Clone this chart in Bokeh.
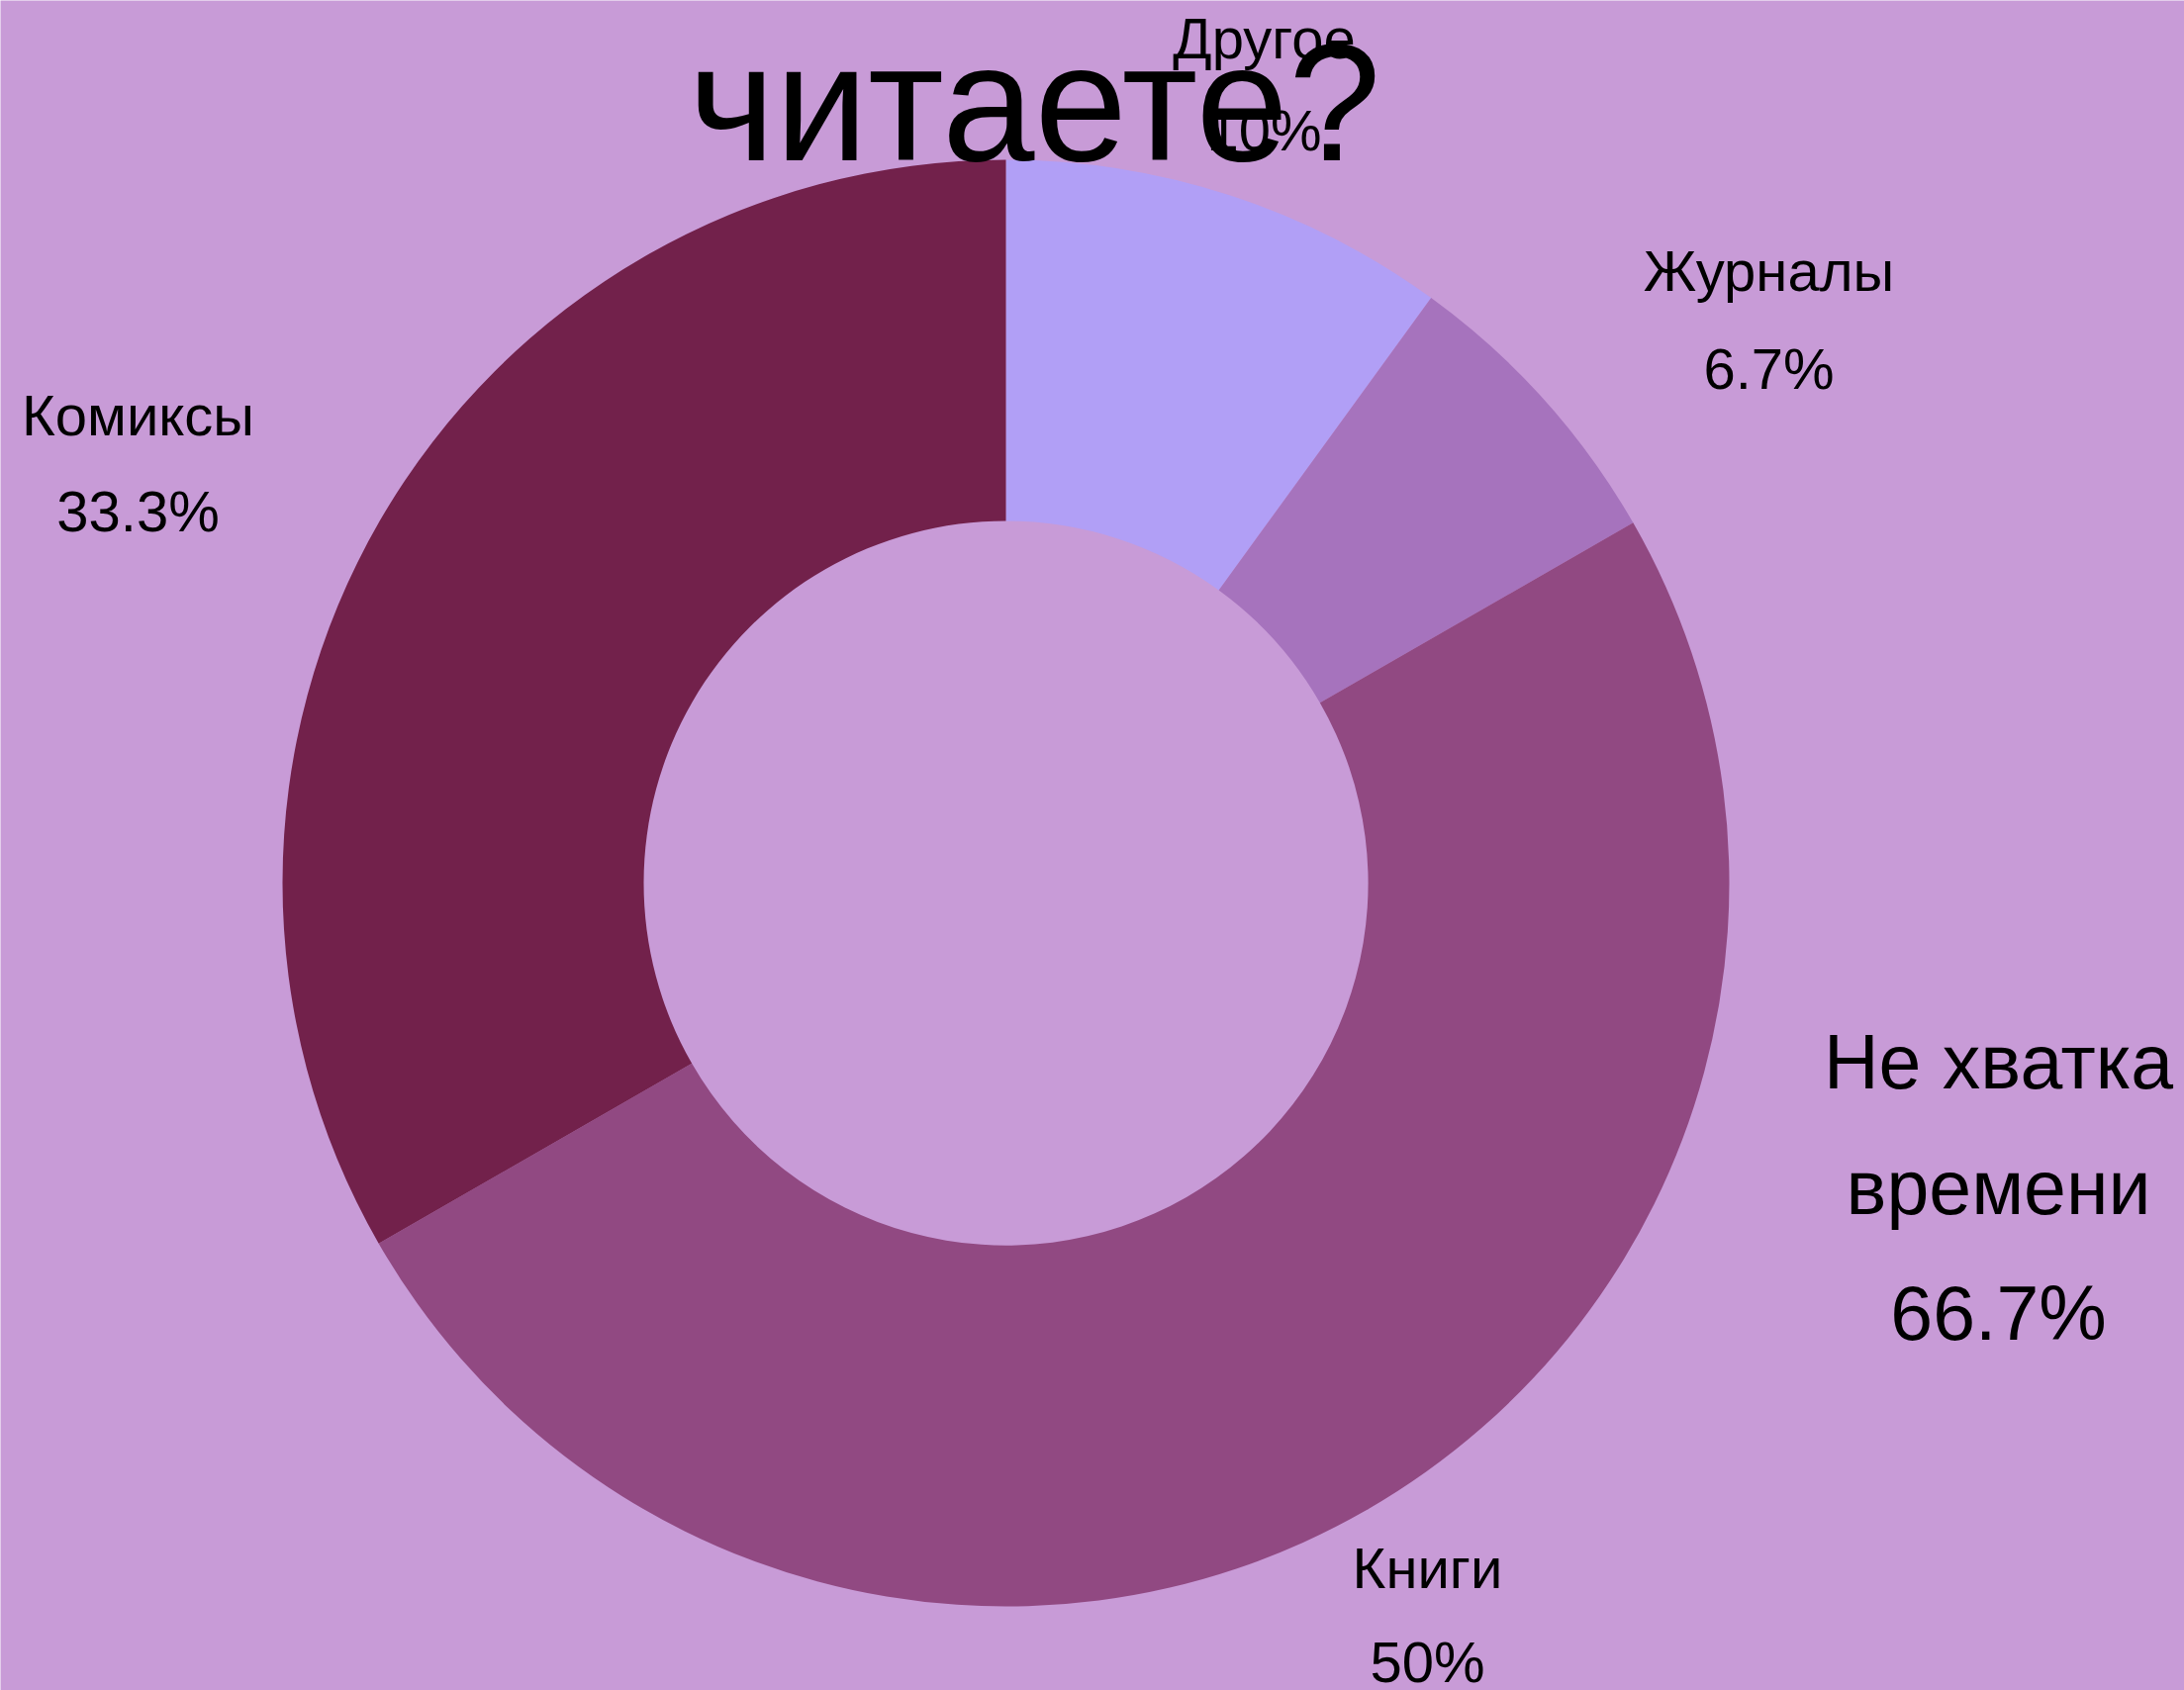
from bokeh.plotting import figure
from bokeh.models import Range1d, ColumnDataSource
from bokeh.core.properties import value
from bokeh.embed import file_html
from bokeh.resources import INLINE
import numpy as np

# ---- data ----
categories = ["Другое", "Журналы", "Книги", "Комиксы"]
values = [10.0, 6.7, 50.0, 33.3]
pct_labels = ["10%", "6.7%", "50%", "33.3%"]
colors = ["#b19ff6", "#a673bd", "#914982", "#72214b"]

extra_label_lines = ["Не хватка", "времени", "66.7%"]
title_text = "читаете?"

# ---- layout (page pixels) ----
W, H = 2207, 1708
CX, CY = 1016, 892          # donut centre in page pixels
R_OUT, R_IN = 731, 366
BG = "#c89bd7"
FONT = value("Liberation Sans")
BASE_FIX = 0.37             # baseline correction, in em

# label anchors (page pixels): x centre, baseline of name, baseline of percent
lbl_x = [1277, 1787, 1442, 139]
lbl_y1 = [59, 294, 1605, 440]
lbl_y2 = [152, 393, 1700, 537]
extra_x = 2019
extra_y = [1101, 1228, 1355]

p = figure(width=W, height=H, output_backend="svg", toolbar_location=None,
           x_range=Range1d(-CX, W - CX), y_range=Range1d(CY - H, CY),
           min_border=0, outline_line_color=None)
p.axis.visible = False
p.grid.visible = False
p.background_fill_color = BG
p.border_fill_color = BG

frac = np.array(values) / sum(values)
cum = np.concatenate([[0], np.cumsum(frac)])
start = np.pi / 2 - cum[:-1] * 2 * np.pi
end = np.pi / 2 - cum[1:] * 2 * np.pi

src = ColumnDataSource(dict(start=start, end=end, color=colors, cat=categories))
p.annular_wedge(x=0, y=0, inner_radius=R_IN, outer_radius=R_OUT,
                start_angle="start", end_angle="end", direction="clock",
                fill_color="color", line_color=None, source=src)

def px(x):
    return [v - CX for v in x]

def py(y, fs):
    return [CY - v + BASE_FIX * fs for v in y]

def label(xs, ys, texts, fs):
    p.text(x=px(xs), y=py(ys, fs), text=texts, text_font=FONT,
           text_font_size=f"{fs}px", text_align="center",
           text_baseline="alphabetic", text_color="#000000")

label(lbl_x, lbl_y1, categories, 58)
label(lbl_x, lbl_y2, pct_labels, 58)
label([extra_x] * 3, extra_y, extra_label_lines, 77)
label([1045], [166], [title_text], 168)

open("out.html", "w").write(file_html(p, INLINE))
